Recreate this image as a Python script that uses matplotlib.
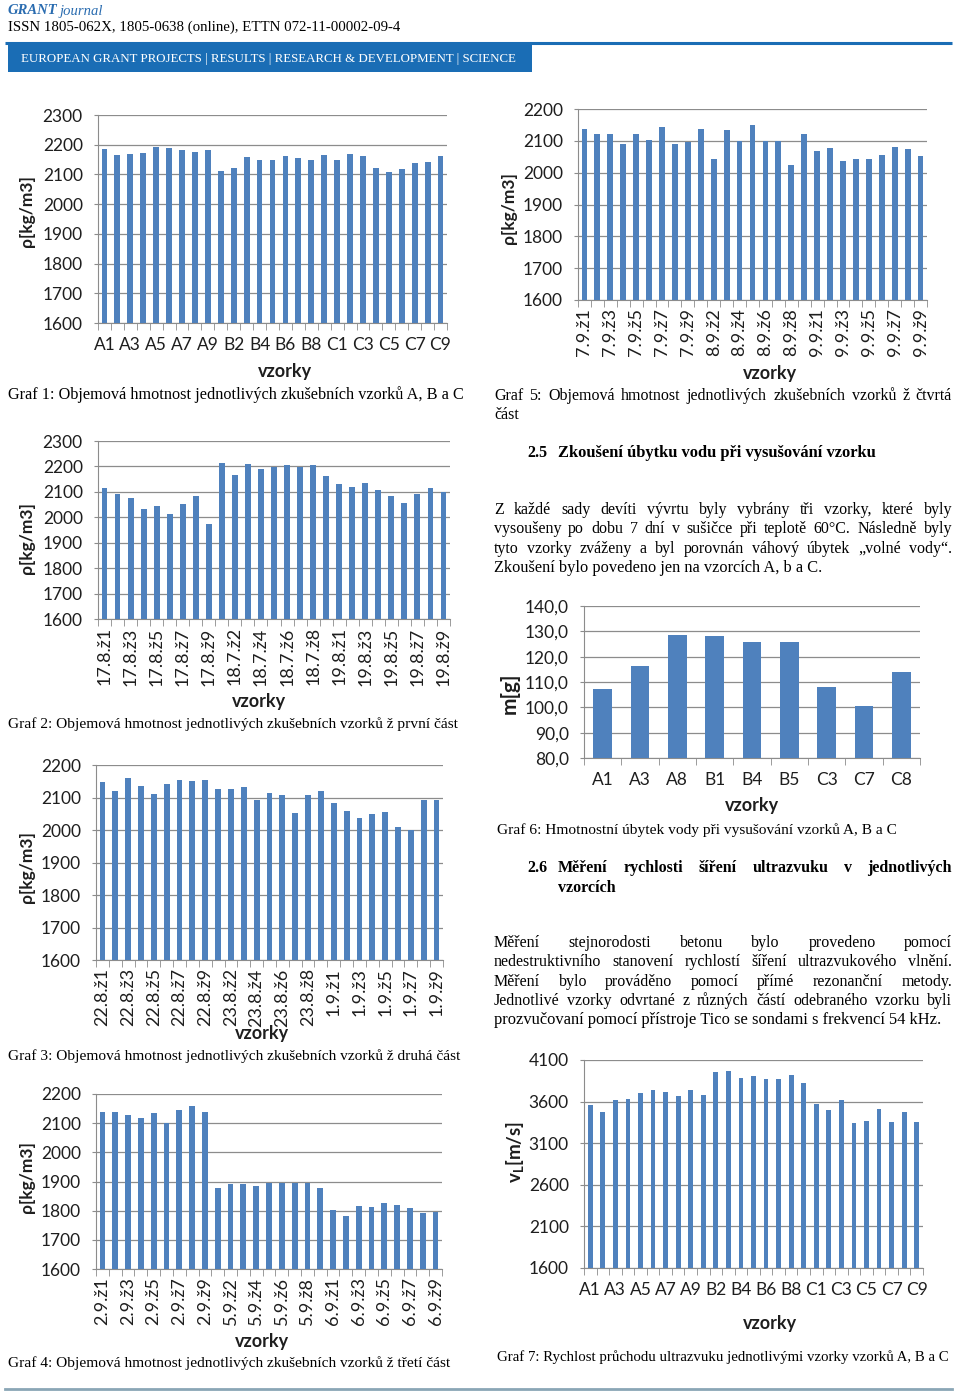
import matplotlib
matplotlib.use('Agg')
import matplotlib.pyplot as plt
import numpy as np
from matplotlib.patches import Rectangle

# data
vzorky_abc = [f'{s}{i}' for s in 'ABC' for i in range(1, 10)]
g1_labels = vzorky_abc
g1_values = [2185, 2167, 2170, 2173, 2191, 2189, 2183, 2176, 2182,
             2110, 2122, 2158, 2148, 2148, 2161, 2155, 2148, 2164,
             2148, 2170, 2162, 2122, 2108, 2117, 2137, 2143, 2162]

g2_labels = [f'{p}{i}' for p in ['17.8.ž', '18.7.ž', '19.8.ž'] for i in range(1, 10)]
g2_values = [2116, 2090, 2077, 2031, 2043, 2011, 2052, 2084, 1972,
             2212, 2165, 2208, 2190, 2198, 2206, 2198, 2206, 2161,
             2132, 2119, 2136, 2108, 2084, 2058, 2091, 2116, 2099]

g3_labels = [f'{p}{i}' for p in ['22.8.ž', '23.8.ž', '1.9.ž'] for i in range(1, 10)]
g3_values = [2147, 2119, 2161, 2136, 2112, 2142, 2155, 2152, 2155,
             2126, 2126, 2132, 2091, 2114, 2107, 2053, 2109, 2120,
             2082, 2058, 2038, 2049, 2056, 2008, 1999, 2091, 2091]

g4_labels = [f'{p}{i}' for p in ['2.9.ž', '5.9.ž', '6.9.ž'] for i in range(1, 10)]
g4_values = [2138, 2138, 2127, 2117, 2135, 2102, 2146, 2160, 2138,
             1877, 1891, 1891, 1883, 1894, 1894, 1894, 1894, 1877,
             1804, 1783, 1817, 1813, 1828, 1819, 1810, 1792, 1794]

g5_labels = [f'{p}{i}' for p in ['7.9.ž', '8.9.ž', '9.9.ž'] for i in range(1, 10)]
g5_values = [2137, 2121, 2121, 2090, 2123, 2104, 2145, 2089, 2096,
             2137, 2043, 2135, 2100, 2151, 2100, 2100, 2024, 2121,
             2068, 2077, 2037, 2043, 2043, 2054, 2082, 2074, 2052]

g6_labels = ['A1', 'A3', 'A8', 'B1', 'B4', 'B5', 'C3', 'C7', 'C8']
g6_values = [107.4, 116.2, 128.4, 128.0, 125.7, 125.7, 108.0, 100.5, 114.1]
g6_ticks = [80, 90, 100, 110, 120, 130, 140]
g6_ticklabels = ['80,0', '90,0', '100,0', '110,0', '120,0', '130,0', '140,0']

g7_labels = vzorky_abc
g7_values = [3559, 3475, 3616, 3635, 3699, 3743, 3711, 3667, 3743,
             3679, 3960, 3968, 3884, 3904, 3872, 3872, 3924, 3828,
             3571, 3499, 3616, 3339, 3367, 3511, 3359, 3475, 3359]
g7_ticks = [1600, 2100, 2600, 3100, 3600, 4100]

W, H = 960, 1393
BAR = '#4F81BD'
GRID = '#8c8c8c'
INK = '#1e1e1e'
SANS = ['Lato', 'DejaVu Sans']
SERIF = ['Liberation Serif', 'DejaVu Serif']
TICK = 12.5

plt.rcParams['mathtext.fontset'] = 'custom'
plt.rcParams['mathtext.bf'] = 'Lato:bold'
plt.rcParams['mathtext.rm'] = 'Lato'

fig = plt.figure(figsize=(W / 100, H / 100), dpi=100)
ax0 = fig.add_axes([0, 0, 1, 1])
ax0.set_xlim(0, W)
ax0.set_ylim(H, 0)
ax0.axis('off')
r = fig.canvas.get_renderer()


def chart(box, values, labels, ylim, yticks, yticklabels=None, rot=0, step=2, width=0.45):
    x0, y0, x1, y1 = box
    ax = fig.add_axes([x0 / W, 1 - y1 / H, (x1 - x0) / W, (y1 - y0) / H])
    n = len(values)
    x = np.arange(n)
    ax.bar(x, values, width, color=BAR, zorder=3)
    ax.set_xlim(-0.5, n - 0.5)
    ax.set_ylim(*ylim)
    ax.set_yticks(yticks)
    if yticklabels is None:
        yticklabels = [str(t) for t in yticks]
    ax.set_yticklabels(yticklabels, family=SANS, fontsize=TICK, color=INK)
    ax.yaxis.grid(True, color=GRID, lw=0.9)
    ax.set_axisbelow(True)
    for s in ['top', 'right']:
        ax.spines[s].set_visible(False)
    for s in ['left', 'bottom']:
        ax.spines[s].set_color(GRID)
    ax.set_xticks(x[::step])
    if rot:
        ax.set_xticklabels(labels[::step], rotation=90, ha='center', va='top',
                           family=SANS, fontsize=TICK + 0.5, color=INK)
        pad = 6
    else:
        ax.set_xticklabels(labels[::step], family=SANS, fontsize=TICK, color=INK)
        pad = 10
    ax.set_xticks(np.arange(-0.5, n), minor=True)
    ax.tick_params(axis='x', which='major', length=0, pad=pad)
    ax.tick_params(axis='x', which='minor', length=5, color=GRID)
    ax.tick_params(axis='y', length=3, color=GRID, pad=8)
    ax.patch.set_alpha(0)
    return ax


def label(x, y, s, rot=0, size=13):
    ax0.text(x, y, s, rotation=rot, ha='center', va='center', family=SANS,
             fontsize=size, fontweight='bold', color=INK)


def fit(s, x0, x1, y, size=11.5, **kw):
    t = ax0.text(x0, y, s, fontsize=size, va='center', family=SERIF, **kw)
    w = t.get_window_extent(renderer=r).width
    t.set_fontsize(size * (x1 - x0) / w)
    return t


def plain(s, x0, y, size=11.5, **kw):
    return ax0.text(x0, y, s, fontsize=size, va='center', family=SERIF, **kw)


def justify(s, x0, x1, y, size=11.5, **kw):
    words = s.split()
    ts = [ax0.text(0, y, w, fontsize=size, va='center', family=SERIF, **kw) for w in words]
    ws = [t.get_window_extent(renderer=r).width for t in ts]
    gap = (x1 - x0 - sum(ws)) / (len(ws) - 1)
    x = x0
    for t, w in zip(ts, ws):
        t.set_x(x)
        x += w + gap


# header
ax0.text(8, 11, 'GRANT', fontsize=10.5, fontweight='bold', style='italic',
         family=SERIF, color='#2a6cb0', va='center')
ax0.text(60, 11, 'journal', fontsize=10.5, style='italic',
         family=SERIF, color='#2a6cb0', va='center')
fit('ISSN 1805-062X, 1805-0638 (online), ETTN 072-11-00002-09-4', 8, 398, 27, 10.5)
ax0.plot([5, 952], [43, 43], color='#1a6db5', lw=2.2, solid_capstyle='butt')
ax0.add_patch(Rectangle((8, 44), 524, 28, color='#1a6db5', lw=0))
fit('EUROPEAN GRANT PROJECTS | RESULTS | RESEARCH & DEVELOPMENT | SCIENCE',
    21, 519, 59, 9.5, color='white')
ax0.plot([5, 952], [1389, 1389], color='#8aa6b6', lw=2)

rho = 'ρ[kg/m3]'
years = [1600, 1700, 1800, 1900, 2000, 2100, 2200]

# Graf 1
chart((98, 115, 447, 323), g1_values, g1_labels, (1600, 2300), years + [2300])
label(27, 211, rho, 90, 12.5)
label(285, 372, 'vzorky')
fit('Graf 1: Objemová hmotnost jednotlivých zkušebních vzorků A, B a C', 8, 462, 395)

# Graf 2
chart((98, 441, 450, 619), g2_values, g2_labels, (1600, 2300), years + [2300], rot=90)
label(27, 538, rho, 90, 12.5)
label(259, 702, 'vzorky')
fit('Graf 2: Objemová hmotnost jednotlivých zkušebních vzorků ž první část', 8, 456, 724)

# Graf 3
chart((96, 765, 443, 960), g3_values, g3_labels, (1600, 2200), years, rot=90)
label(27, 867, rho, 90, 12.5)
label(262, 1034, 'vzorky')
fit('Graf 3: Objemová hmotnost jednotlivých zkušebních vzorků ž druhá část', 8, 458, 1056)

# Graf 4
chart((96, 1094, 442, 1269), g4_values, g4_labels, (1600, 2200), years, rot=90)
label(27, 1177, rho, 90, 12.5)
label(262, 1341, 'vzorky')
fit('Graf 4: Objemová hmotnost jednotlivých zkušebních vzorků ž třetí část', 8, 447, 1363)

# Graf 5
chart((578, 109, 927, 300), g5_values, g5_labels, (1600, 2200), years, rot=90)
label(509, 208, rho, 90, 12.5)
label(770, 373, 'vzorky')
justify('Graf 5: Objemová hmotnost jednotlivých zkušebních vzorků ž čtvrtá', 494, 952, 396)
plain('část', 494, 415)

# section 2.5
plain('2.5', 527, 453, fontweight='bold')
fit('Zkoušení úbytku vodu při vysušování vzorku', 558, 879, 453, fontweight='bold')
para1 = ['Z každé sady devíti vývrtu byly vybrány tři vzorky, které byly',
         'vysoušeny po dobu 7 dní v sušičce při teplotě 60°C. Následně byly',
         'tyto vzorky zváženy a byl porovnán váhový úbytek „volné vody“.']
for i, line in enumerate(para1):
    justify(line, 494, 952, 510 + i * 19.3)
fit('Zkoušení bylo povedeno jen na vzorcích A, b a C.', 494, 823, 568)

# Graf 6
chart((584, 606, 920, 758), g6_values, g6_labels, (80, 140), g6_ticks, g6_ticklabels,
      step=1, width=0.5)
label(510, 693, 'm[g]', 90, size=15)
label(752, 806, 'vzorky')
fit('Graf 6: Hmotnostní úbytek vody při vysušování vzorků A, B a C', 497, 895, 830)

# section 2.6
plain('2.6', 527, 868, fontweight='bold')
justify('Měření rychlosti šíření ultrazvuku v jednotlivých', 558, 952, 868, fontweight='bold')
plain('vzorcích', 558, 888, fontweight='bold')
para2 = ['Měření stejnorodosti betonu bylo provedeno pomocí',
         'nedestruktivního stanovení rychlostí šíření ultrazvukového vlnění.',
         'Měření bylo prováděno pomocí přímé rezonanční metody.',
         'Jednotlivé vzorky odvrtané z různých částí odebraného vzorku byli']
for i, line in enumerate(para2):
    justify(line, 494, 952, 943 + i * 19.3)
fit('prozvučovaní pomocí přístroje Tico se sondami s frekvencí 54 kHz.', 494, 944, 1020)

# Graf 7
chart((584, 1060, 923, 1268), g7_values, g7_labels, (1600, 4100), g7_ticks, width=0.38)
label(515, 1152, r'$\mathbf{v_{L}[m/s]}$', 90, size=13.5)
label(770, 1323, 'vzorky')
fit('Graf 7: Rychlost průchodu ultrazvuku jednotlivými vzorky vzorků A, B a C', 497, 950, 1357)

plt.savefig('out.png', dpi=100)
